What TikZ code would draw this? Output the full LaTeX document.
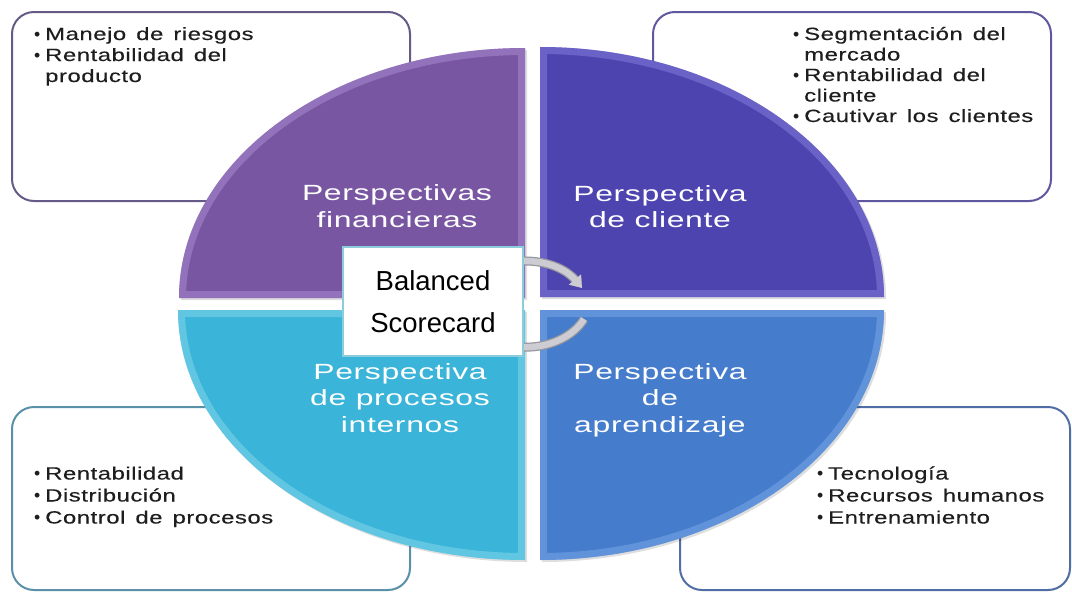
\documentclass[tikz,border=0pt]{standalone}
\usepackage{fontspec}
\setmainfont{Liberation Sans}
\newfontfamily\bulfont[FakeStretch=1.35,LetterSpace=3,WordSpace=1.4,FakeBold=0.3]{Liberation Sans}
\newfontfamily\labfont[FakeStretch=1.45,LetterSpace=3]{Liberation Sans}
\newfontfamily\plainfont{Liberation Sans}
\usetikzlibrary{arrows.meta,calc}
\pgfdeclarelayer{bg}
\pgfdeclarelayer{mid}
\pgfsetlayers{bg,mid,main}

\definecolor{qpurple}{RGB}{120,86,162}
\definecolor{qviolet}{RGB}{78,68,176}
\definecolor{qcyan}{RGB}{58,180,216}
\definecolor{qblue}{RGB}{70,124,204}
\definecolor{lpurple}{RGB}{185,155,225}
\definecolor{lviolet}{RGB}{145,140,230}
\definecolor{lcyan}{RGB}{150,225,242}
\definecolor{lblue}{RGB}{135,180,238}
\definecolor{bpurple}{RGB}{102,90,135}
\definecolor{bviolet}{RGB}{95,88,160}
\definecolor{bcyan}{RGB}{90,145,168}
\definecolor{bblue}{RGB}{80,110,165}
\definecolor{textdark}{RGB}{30,30,30}
\definecolor{bscborder}{RGB}{140,205,220}
\definecolor{arrowfill}{RGB}{204,204,210}
\definecolor{arrowedge}{RGB}{150,150,158}

\newcommand\quadshape[3]{%
  \fill[black,opacity=0.13,xshift=2pt,yshift=-2pt] #1;
  \fill[#2] #1;
  \begin{scope}\clip #1; \draw[#3,line width=14pt,opacity=0.42] #1; \end{scope}}

\tikzset{
  infobox/.style={draw=#1, line width=2pt, fill=white, rounded corners=22pt, inner sep=0pt},
  bul/.style={anchor=base west, inner sep=0pt, text=textdark, font=\bulfont\fontsize{17.7}{21}\selectfont},
  lab/.style={anchor=base, inner sep=0pt, text=white, font=\labfont\fontsize{22}{26}\selectfont},
  bscbox/.style={draw=bscborder, line width=1.5pt, fill=white, inner sep=0pt, align=center,
    minimum width=180pt, minimum height=109pt, text=black, font=\plainfont\fontsize{27.5}{42}\selectfont},
  cyclearrow/.style={arrowfill, line width=6.5pt, preaction={draw=arrowedge, line width=9pt}}
}
\newcommand\bu{\llap{{\plainfont\textbullet}\hspace{5pt}}}

\begin{document}
\begin{tikzpicture}[x=1pt,y=-1pt]
\useasboundingbox (0,0) rectangle (1072,592);

% central box and cycle arrows
\node[bscbox] (bsc) at (433,301.5) {Balanced\\Scorecard};

\begin{pgfonlayer}{bg}
  % text boxes
  \node[infobox=bpurple, minimum width=398pt, minimum height=189pt] (tlbox) at (211,106.5) {};
  \node[infobox=bviolet, minimum width=398pt, minimum height=189pt] (trbox) at (852,106.5) {};
  \node[infobox=bcyan, minimum width=398pt, minimum height=183pt] (blbox) at (211,498.5) {};
  \node[infobox=bblue, minimum width=390pt, minimum height=183pt] (brbox) at (875,498.5) {};

  % quadrants
  \quadshape{(525,298) -- (179,298) arc[start angle=180,end angle=270,x radius=346,y radius=250] -- cycle}{qpurple}{lpurple}
  \quadshape{(540,297) -- (540,47) arc[start angle=270,end angle=360,x radius=344,y radius=250] -- cycle}{qviolet}{lviolet}
  \quadshape{(525,310) -- (525,560) arc[start angle=90,end angle=180,x radius=347,y radius=250] -- cycle}{qcyan}{lcyan}
  \quadshape{(540,310) -- (884,310) arc[start angle=0,end angle=90,x radius=344,y radius=250] -- cycle}{qblue}{lblue}
\end{pgfonlayer}

\begin{pgfonlayer}{mid}
  \coordinate (a1end) at (582,288);
  \coordinate (a2end) at (584,319);
  \draw[cyclearrow, -{Triangle[width=15pt,length=11pt]}]
    ($(bsc.north east)+(-8,15)$) .. controls (547,259) and (567,270) .. (a1end);
  \draw[cyclearrow]
    ($(bsc.south east)+(-8,-10)$) .. controls (548,350) and (574,336) .. (a2end);
\end{pgfonlayer}

% bullet texts
\node[bul] (tl1) at (45,40) {\bu Manejo de riesgos};
\node[bul] (tl2) at (45,61) {\bu Rentabilidad del};
\node[bul] (tl3) at (45,82) {producto};

\node[bul] (tr1) at (804,40) {\bu Segmentación del};
\node[bul] (tr2) at (804,60.5) {mercado};
\node[bul] (tr3) at (804,81) {\bu Rentabilidad del};
\node[bul] (tr4) at (804,101.5) {cliente};
\node[bul] (tr5) at (804,122) {\bu Cautivar los clientes};

\node[bul] (bl1) at (45,479.5) {\bu Rentabilidad};
\node[bul] (bl2) at (45,501.5) {\bu Distribución};
\node[bul] (bl3) at (45,523.5) {\bu Control de procesos};

\node[bul] (br1) at (828,479.5) {\bu Tecnología};
\node[bul] (br2) at (828,501.5) {\bu Recursos humanos};
\node[bul] (br3) at (828,523.5) {\bu Entrenamiento};

% quadrant labels
\node[lab] (tlq1) at (397,200.5) {Perspectivas};
\node[lab] (tlq2) at (397,227) {financieras};
\node[lab] (trq1) at (660,201) {Perspectiva};
\node[lab] (trq2) at (660,227.5) {de cliente};
\node[lab] (blq1) at (400,379) {Perspectiva};
\node[lab] (blq2) at (400,405.5) {de procesos};
\node[lab] (blq3) at (400,432) {internos};
\node[lab] (brq1) at (660,379) {Perspectiva};
\node[lab] (brq2) at (660,405.5) {de};
\node[lab] (brq3) at (660,432) {aprendizaje};
\end{tikzpicture}
\end{document}
